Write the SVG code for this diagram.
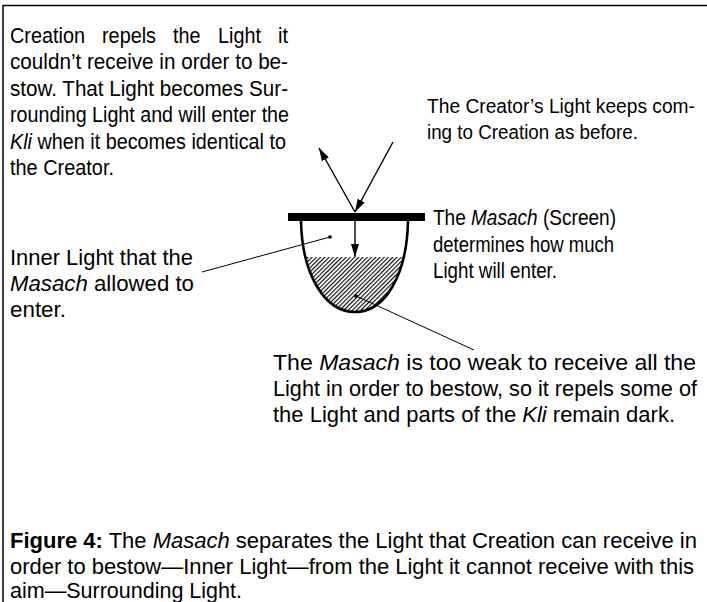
<svg xmlns="http://www.w3.org/2000/svg" width="707" height="602" viewBox="0 0 707 602">
<style>
text{font-family:"Liberation Sans",Arial,sans-serif;font-size:22px;fill:#000}
.sm{font-size:20px}
.i{font-style:italic}
.b{font-weight:bold}
.arrow{stroke:#000;stroke-width:1.4;fill:none}
.lead{stroke:#000;stroke-width:1;fill:none}
</style>
<defs>
<marker id="ah" viewBox="0 0 13 8" refX="13" refY="4" markerWidth="13" markerHeight="8" markerUnits="userSpaceOnUse" orient="auto">
<path d="M0,0 L13,4 L0,8 Z" fill="#000"/>
</marker>
<pattern id="hatch" patternUnits="userSpaceOnUse" width="3" height="3" patternTransform="rotate(45)">
<line x1="0.6" y1="0" x2="0.6" y2="3" stroke="#000" stroke-width="1.1"/>
</pattern>
<clipPath id="bowlclip">
<path d="M301,221 C302,275 325,312 355,312 C385,312 407,275 408,221 Z"/>
</clipPath>
</defs>
<g id="frame">
<line x1="3" y1="5.5" x2="707" y2="5.5" stroke="#000" stroke-width="1.5"/>
<line x1="3" y1="5" x2="3" y2="602" stroke="#000" stroke-width="1.5"/>
</g>
<g id="vessel">
<rect x="301" y="257" width="108" height="60" fill="url(#hatch)" clip-path="url(#bowlclip)"/>
<path d="M301,221 C302,275 325,312 355,312 C385,312 407,275 408,221" stroke="#000" stroke-width="2.6" fill="none"/>
<rect id="masach" x="288" y="213" width="137" height="8" fill="#000"/>
</g>
<g id="connectors">
<line class="arrow" x1="393" y1="142" x2="355" y2="212" marker-end="url(#ah)"/>
<line class="arrow" x1="355" y1="212" x2="319" y2="148" marker-end="url(#ah)"/>
<line class="arrow" x1="355" y1="221" x2="355" y2="257" marker-end="url(#ah)"/>
<line class="lead" x1="202" y1="272" x2="330" y2="237"/>
<circle cx="330" cy="237" r="1.8" fill="#000"/>
<line class="lead" x1="356" y1="296" x2="474" y2="350"/>
<circle cx="356" cy="296" r="1.8" fill="#000"/>
</g>
<g id="surrounding-text">
<text x="10" y="43" textLength="75" lengthAdjust="spacingAndGlyphs">Creation</text>
<text x="102" y="43" textLength="54" lengthAdjust="spacingAndGlyphs">repels</text>
<text x="173" y="43" textLength="27.5" lengthAdjust="spacingAndGlyphs">the</text>
<text x="218" y="43" textLength="43" lengthAdjust="spacingAndGlyphs">Light</text>
<text x="278" y="43" textLength="10" lengthAdjust="spacingAndGlyphs">it</text>
<text x="10" y="69" textLength="278" lengthAdjust="spacingAndGlyphs">couldn’t receive in order to be-</text>
<text x="10" y="96" textLength="278" lengthAdjust="spacingAndGlyphs">stow. That Light becomes Sur-</text>
<text x="10" y="122" textLength="279" lengthAdjust="spacingAndGlyphs">rounding Light and will enter the</text>
<text class="i" x="10" y="149" textLength="22" lengthAdjust="spacingAndGlyphs">Kli</text>
<text x="37.5" y="149" textLength="248.5" lengthAdjust="spacingAndGlyphs">when it becomes identical to</text>
<text x="10" y="175" textLength="104" lengthAdjust="spacingAndGlyphs">the Creator.</text>
</g>
<g id="creator-light-text">
<text class="sm" x="427" y="113" textLength="268" lengthAdjust="spacingAndGlyphs">The Creator’s Light keeps com-</text>
<text class="sm" x="427" y="139" textLength="211" lengthAdjust="spacingAndGlyphs">ing to Creation as before.</text>
</g>
<g id="masach-text">
<text x="433" y="225" textLength="32.8" lengthAdjust="spacingAndGlyphs">The</text>
<text class="i" x="471" y="225" textLength="66.6" lengthAdjust="spacingAndGlyphs">Masach</text>
<text x="543" y="225" textLength="73" lengthAdjust="spacingAndGlyphs">(Screen)</text>
<text x="433" y="252" textLength="181" lengthAdjust="spacingAndGlyphs">determines how much</text>
<text x="433" y="278" textLength="124" lengthAdjust="spacingAndGlyphs">Light will enter.</text>
</g>
<g id="inner-light-text">
<text x="10" y="265" textLength="183" lengthAdjust="spacingAndGlyphs">Inner Light that the</text>
<text x="10" y="291" textLength="184" lengthAdjust="spacingAndGlyphs"><tspan class="i">Masach</tspan> allowed to</text>
<text x="10" y="317" textLength="56" lengthAdjust="spacingAndGlyphs">enter.</text>
</g>
<g id="weak-text">
<text x="273" y="370" textLength="423" lengthAdjust="spacingAndGlyphs">The <tspan class="i">Masach</tspan> is too weak to receive all the</text>
<text x="273" y="396" textLength="424" lengthAdjust="spacingAndGlyphs">Light in order to bestow, so it repels some of</text>
<text x="273" y="422" textLength="402" lengthAdjust="spacingAndGlyphs">the Light and parts of the <tspan class="i">Kli</tspan> remain dark.</text>
</g>
<g id="caption">
<text x="10" y="548" textLength="687" lengthAdjust="spacingAndGlyphs"><tspan class="b">Figure 4:</tspan> The <tspan class="i">Masach</tspan> separates the Light that Creation can receive in</text>
<text x="10" y="574" textLength="684" lengthAdjust="spacingAndGlyphs">order to bestow—Inner Light—from the Light it cannot receive with this</text>
<text x="10" y="598" textLength="232" lengthAdjust="spacingAndGlyphs">aim—Surrounding Light.</text>
</g>
</svg>
